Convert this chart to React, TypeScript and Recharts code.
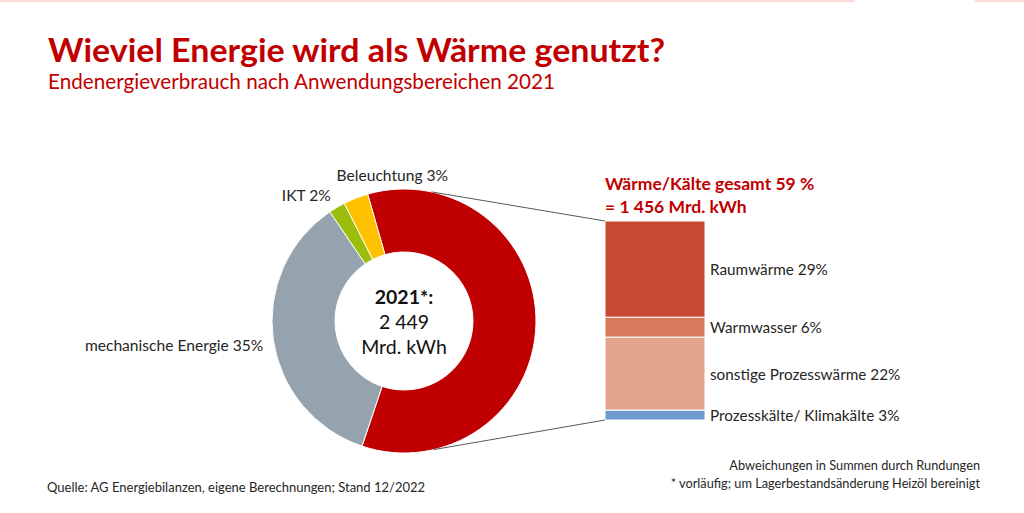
import { PieChart, Pie, Cell, BarChart, Bar, XAxis, YAxis, LabelList } from "recharts";

// Endenergieverbrauch 2021 nach Anwendungsbereichen (in %)
const pieNames = ["Wärme/Kälte", "mechanische Energie", "IKT", "Beleuchtung"];
const pieValues = [59, 35, 2, 3];
const pieColors = ["#C00000", "#95A3AE", "#9BBD0C", "#FFC000"];

// Aufteilung Wärme/Kälte, von unten nach oben gestapelt
const heatNames = ["Prozesskälte/ Klimakälte", "sonstige Prozesswärme", "Warmwasser", "Raumwärme"];
const heatValues = [3, 22, 6, 29];
const heatColors = ["#6F9AD0", "#E3A68C", "#D9785A", "#C84A32"];

const RED = "#C00000";
const TEXT = "#262626";
const FONT = "Lato, 'Open Sans', sans-serif";

const PIE_CX = 404;
const PIE_CY = 321;
const PIE_R = 132;
const PIE_IR = 69;

const BAR_LEFT = 605;
const BAR_TOP = 221;
const BAR_W = 100;
const BAR_H = 199;
const BAR_PAD = 20; // room above/below the stack so labels are not clipped

const pieData = pieNames.map((name, i) => ({ name, value: pieValues[i] }));
const heatRow: Record<string, number | string> = { cat: "2021" };
heatNames.forEach((n, i) => (heatRow[n] = heatValues[i]));
const heatData = [heatRow];

const RADIAN = Math.PI / 180;

// label placement tweaks per slice (radius offset, dx, dy, anchor)
const labelTweak: Record<string, { r: number; dx: number; dy: number; anchor: "start" | "end" }> = {
  "mechanische Energie": { r: 10, dx: 0, dy: 5, anchor: "end" },
  IKT: { r: 10, dx: -1, dy: -4, anchor: "end" },
  Beleuchtung: { r: 14, dx: -14, dy: -10, anchor: "start" },
};

const renderPieLabel = (props: any) => {
  const { cx, cy, midAngle, outerRadius, name, value } = props;
  const t = labelTweak[name];
  if (!t) return null;
  const r = outerRadius + t.r;
  const x = cx + r * Math.cos(-midAngle * RADIAN) + t.dx;
  const y = cy + r * Math.sin(-midAngle * RADIAN) + t.dy;
  return (
    <text x={x} y={y} fill={TEXT} fontSize={15.6} fontFamily={FONT} textAnchor={t.anchor} dominantBaseline="central">
      {`${name} ${value}%`}
    </text>
  );
};

const renderHeatLabel = (name: string) => (props: any) => {
  const { x, y, width, height, value } = props;
  return (
    <text
      x={Number(x) + Number(width) + 5}
      y={Number(y) + Number(height) / 2}
      fill={TEXT}
      fontSize={15.3}
      fontFamily={FONT}
      dominantBaseline="central"
    >
      {`${name} ${value}%`}
    </text>
  );
};

// point on the outer ring, angle in degrees (0 = right, counter-clockwise)
const ringPoint = (deg: number) => ({
  x: PIE_CX + PIE_R * Math.cos(deg * RADIAN),
  y: PIE_CY - PIE_R * Math.sin(deg * RADIAN),
});

export default function App() {
  const topPt = ringPoint(78);
  const botPt = ringPoint(-77);
  return (
    <div style={{ position: "relative", width: 1024, height: 513, background: "#fff", overflow: "hidden", fontFamily: FONT }}>
      <style>{"body{margin:0}"}</style>
      <div style={{ position: "absolute", left: 0, top: 0, width: 855, height: 2, background: "#F9DADA" }} />
      <div style={{ position: "absolute", left: 975, top: 0, width: 49, height: 2, background: "#F9DADA" }} />

      <svg width={1024} height={100} style={{ position: "absolute", left: 0, top: 0 }}>
        <text x={48} y={62} fill={RED} fontFamily={FONT} fontSize={33} fontWeight={700} textLength={617} lengthAdjust="spacingAndGlyphs">
          Wieviel Energie wird als Wärme genutzt?
        </text>
        <text x={48} y={89} fill={RED} fontFamily={FONT} fontSize={20.5} textLength={507} lengthAdjust="spacingAndGlyphs">
          Endenergieverbrauch nach Anwendungsbereichen 2021
        </text>
      </svg>

      <div style={{ position: "absolute", left: 0, top: 0 }}>
        <PieChart width={1024} height={513} margin={{ top: 0, right: 0, bottom: 0, left: 0 }}>
          <Pie
            data={pieData}
            dataKey="value"
            nameKey="name"
            cx={PIE_CX}
            cy={PIE_CY}
            innerRadius={PIE_IR}
            outerRadius={PIE_R}
            startAngle={106}
            endAngle={-254}
            stroke="#fff"
            strokeWidth={1}
            label={renderPieLabel}
            labelLine={false}
            isAnimationActive={false}
          >
            {pieData.map((d, i) => (
              <Cell key={d.name} fill={pieColors[i]} />
            ))}
          </Pie>
        </PieChart>
      </div>

      <div
        style={{
          position: "absolute",
          left: PIE_CX - 60,
          top: PIE_CY - 37,
          width: 120,
          textAlign: "center",
          fontSize: 19.5,
          lineHeight: "25px",
          color: "#111",
        }}
      >
        <div style={{ fontWeight: 700 }}>2021*:</div>
        <div>2 449</div>
        <div>Mrd. kWh</div>
      </div>

      <svg width={1024} height={513} style={{ position: "absolute", left: 0, top: 0, pointerEvents: "none" }}>
        <line x1={topPt.x} y1={topPt.y} x2={BAR_LEFT} y2={BAR_TOP} stroke="#595959" strokeWidth={1} />
        <line x1={botPt.x} y1={botPt.y} x2={BAR_LEFT} y2={BAR_TOP + BAR_H} stroke="#595959" strokeWidth={1} />
      </svg>

      <div style={{ position: "absolute", left: BAR_LEFT, top: 172, fontSize: 17.5, fontWeight: 700, color: RED, lineHeight: "23px", whiteSpace: "nowrap" }}>
        <div>Wärme/Kälte gesamt 59 %</div>
        <div>= 1 456 Mrd. kWh</div>
      </div>

      <div style={{ position: "absolute", left: BAR_LEFT, top: BAR_TOP - BAR_PAD }}>
        <BarChart
          width={BAR_W + 260}
          height={BAR_H + 2 * BAR_PAD}
          data={heatData}
          margin={{ top: BAR_PAD, right: 260, bottom: BAR_PAD, left: 0 }}
          barCategoryGap="0%"
          barGap={0}
        >
          <XAxis dataKey="cat" hide />
          <YAxis hide domain={[0, 60]} />
          {heatNames.map((n, i) => (
            <Bar key={n} dataKey={n} stackId="w" fill={heatColors[i]} stroke="#fff" strokeWidth={1} isAnimationActive={false}>
              <LabelList dataKey={n} content={renderHeatLabel(n)} />
            </Bar>
          ))}
        </BarChart>
      </div>

      <div style={{ position: "absolute", left: 47, top: 479, fontSize: 13, color: TEXT, whiteSpace: "nowrap" }}>
        Quelle: AG Energiebilanzen, eigene Berechnungen; Stand 12/2022
      </div>
      <div style={{ position: "absolute", right: 44, top: 456, fontSize: 12.75, color: TEXT, textAlign: "right", lineHeight: "18px", whiteSpace: "nowrap" }}>
        <div>Abweichungen in Summen durch Rundungen</div>
        <div>* vorläufig; um Lagerbestandsänderung Heizöl bereinigt</div>
      </div>
    </div>
  );
}
